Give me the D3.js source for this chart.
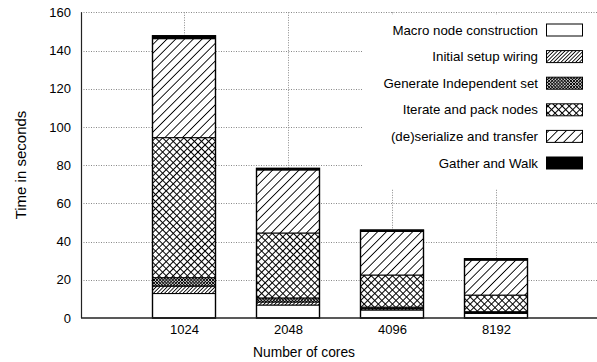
<!DOCTYPE html>
<html>
<head>
<meta charset="utf-8">
<script src="https://cdn.jsdelivr.net/npm/d3@7"></script>
<style>
  html, body { margin: 0; padding: 0; background: #fff; }
  svg { display: block; font-family: "Liberation Sans", Arial, Helvetica, sans-serif; }
</style>
</head>
<body>
<svg id="chart" width="597" height="362"></svg>
<script>
// Per-phase timings (seconds) for each core count
const categories = ["1024", "2048", "4096", "8192"];
const seriesNames = [
  "Macro node construction",
  "Initial setup wiring",
  "Generate Independent set",
  "Iterate and pack nodes",
  "(de)serialize and transfer",
  "Gather and Walk"
];
const macroNode   = [12.8, 6.8, 4.2, 2.4];
const initialWire = [3.9, 1.6, 0.7, 0.4];
const generateSet = [4.4, 2.1, 0.8, 0.5];
const iteratePack = [73.3, 34.0, 16.8, 8.7];
const serialize   = [51.8, 33.0, 22.8, 18.3];
const gatherWalk  = [1.5, 0.8, 0.7, 0.7];
const yTicks = [0, 20, 40, 60, 80, 100, 120, 140, 160];

const seriesValues = [macroNode, initialWire, generateSet, iteratePack, serialize, gatherWalk];
const fills = ["#fff", "url(#pInit)", "url(#pGen)", "url(#pIter)", "url(#pSer)", "#000"];

const svg = d3.select("#chart");
const plotLeft = 80, plotRight = 600, plotTop = 12.3, plotBottom = 318;

const x = d3.scaleLinear().domain([0, categories.length + 1]).range([plotLeft, plotRight]);
const y = d3.scaleLinear().domain([0, 160]).range([plotBottom, plotTop]);
const barW = 63;

// hatch patterns
const defs = svg.append("defs");
function hatch(id, spacing, angles, sw) {
  const p = defs.append("pattern")
    .attr("id", id)
    .attr("patternUnits", "userSpaceOnUse")
    .attr("width", spacing).attr("height", spacing)
    .attr("patternTransform", `rotate(${angles[0]})`);
  p.append("rect").attr("width", spacing).attr("height", spacing).attr("fill", "#fff");
  p.append("line").attr("x1", spacing / 2).attr("x2", spacing / 2)
    .attr("y1", 0).attr("y2", spacing)
    .attr("stroke", "#000").attr("stroke-width", sw);
  if (angles.length > 1) {
    p.append("line").attr("x1", 0).attr("x2", spacing)
      .attr("y1", spacing / 2).attr("y2", spacing / 2)
      .attr("stroke", "#000").attr("stroke-width", sw);
  }
}
hatch("pInit", 2.6, [45], 0.9);
hatch("pGen", 2.2, [45, 135], 0.9);
hatch("pIter", 5.0, [45, 135], 1.0);
hatch("pSer", 6.2, [45], 0.9);

// grid
const grid = svg.append("g").attr("class", "grid");
grid.selectAll("line.h").data(yTicks.filter(d => d > 0)).join("line")
  .attr("class", "h")
  .attr("x1", plotLeft + 1).attr("x2", plotRight)
  .attr("y1", d => Math.round(y(d)) + 0.5).attr("y2", d => Math.round(y(d)) + 0.5)
  .attr("stroke", "#888").attr("stroke-width", 1).attr("stroke-dasharray", "1,1.5");
grid.selectAll("line.v").data(categories).join("line")
  .attr("class", "v")
  .attr("x1", (d, i) => Math.round(x(i + 1)) + 0.5).attr("x2", (d, i) => Math.round(x(i + 1)) + 0.5)
  .attr("y1", plotTop).attr("y2", plotBottom)
  .attr("stroke", "#888").attr("stroke-width", 1).attr("stroke-dasharray", "1,1.5");

// legend backing box (opaque key)
svg.append("rect").attr("x", 362).attr("y", 15).attr("width", 240).attr("height", 174).attr("fill", "#fff");

// stacked bars
const stackData = categories.map((c, i) => {
  const o = { cat: c };
  seriesNames.forEach((s, k) => { o[s] = seriesValues[k][i]; });
  return o;
});
const stacked = d3.stack().keys(seriesNames)(stackData);

const bars = svg.append("g").attr("class", "bars");
stacked.forEach((layer, k) => {
  bars.append("g").selectAll("rect").data(layer).join("rect")
    .attr("x", (d, i) => x(i + 1) - barW / 2)
    .attr("width", barW)
    .attr("y", d => y(d[1]))
    .attr("height", d => y(d[0]) - y(d[1]))
    .attr("fill", fills[k])
    .attr("stroke", "#000").attr("stroke-width", 1);
});
// outer outline of each bar
bars.append("g").selectAll("rect").data(categories).join("rect")
  .attr("x", (d, i) => x(i + 1) - barW / 2)
  .attr("width", barW)
  .attr("y", (d, i) => y(d3.sum(seriesValues, s => s[i])))
  .attr("height", (d, i) => y(0) - y(d3.sum(seriesValues, s => s[i])))
  .attr("fill", "none").attr("stroke", "#000").attr("stroke-width", 1.4);

// axes lines
svg.append("line").attr("x1", plotLeft + 1).attr("x2", 597).attr("y1", plotBottom).attr("y2", plotBottom)
  .attr("stroke", "#222").attr("stroke-width", 1.5);
svg.append("line").attr("x1", plotLeft + 1.5).attr("x2", plotLeft + 1.5).attr("y1", plotTop).attr("y2", plotBottom)
  .attr("stroke", "#222").attr("stroke-width", 1.2);

// y tick labels
const yAxis = d3.axisLeft(y).tickValues(yTicks).tickSize(0).tickPadding(0);
const gy = svg.append("g").attr("transform", `translate(${71},0)`).call(yAxis);
gy.select(".domain").remove();
gy.selectAll("text").attr("font-size", 13).attr("font-family", null).attr("fill", "#000");

// x tick labels
const xAxis = d3.axisBottom(x).tickValues(d3.range(1, categories.length + 1))
  .tickFormat(d => categories[d - 1]).tickSize(0).tickPadding(0);
const gx = svg.append("g").attr("transform", `translate(0,${325})`).call(xAxis);
gx.select(".domain").remove();
gx.selectAll("text").attr("font-size", 13).attr("font-family", null).attr("fill", "#000");

// axis titles
svg.append("text").attr("x", 304).attr("y", 357).attr("text-anchor", "middle")
  .attr("font-size", 13.8).text("Number of cores");
svg.append("text").attr("transform", "translate(26,165) rotate(-90)").attr("text-anchor", "middle")
  .attr("font-size", 15).text("Time in seconds");

// legend
const legendY = d3.scaleLinear().domain([0, 5]).range([30, 163]);
const lg = svg.append("g").attr("class", "legend");
seriesNames.forEach((name, k) => {
  lg.append("text").attr("x", 538).attr("y", legendY(k)).attr("dy", "0.35em")
    .attr("text-anchor", "end").attr("font-size", 13.3).text(name);
  lg.append("rect").attr("x", 546.5).attr("y", legendY(k) - 6).attr("width", 36).attr("height", 12)
    .attr("fill", fills[k]).attr("stroke", "#000").attr("stroke-width", 1);
});
</script>
</body>
</html>
